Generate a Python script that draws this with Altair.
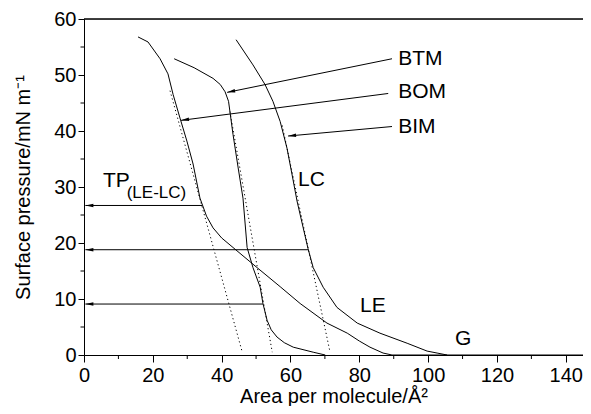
import math
import altair as alt
import pandas as pd

# ---------------- data ----------------
bom_x = [15.7, 18.6, 22.1, 24.4, 25.9, 27.9, 29.9, 31.7, 33.7, 34.3, 35.6, 37.5, 40.0, 43.3, 50.3, 57.0, 62.8, 70.6, 76.5, 80.0, 83.1, 86.9, 89.5, 145.0]
bom_y = [56.8, 55.9, 52.9, 50.2, 46.5, 42.3, 38.2, 34.1, 28.0, 27.0, 24.8, 22.7, 20.9, 19.2, 15.6, 12.2, 9.2, 5.7, 3.9, 2.5, 1.4, 0.35, 0.0, 0.0]

btm_x = [26.2, 32.0, 37.5, 39.6, 41.0, 42.0, 42.4, 43.3, 44.8, 46.2, 47.4, 49.1, 51.2, 52.0, 53.2, 54.4, 56.1, 58.2, 60.8, 66.6, 70.1]
btm_y = [52.9, 51.3, 49.4, 48.3, 47.0, 45.3, 43.5, 39.4, 33.4, 28.0, 19.2, 15.6, 12.1, 9.2, 6.2, 4.5, 3.2, 2.2, 1.4, 0.5, 0.0]

bim_x = [44.2, 49.1, 52.6, 54.9, 57.0, 59.0, 60.8, 61.9, 63.7, 65.1, 66.6, 69.5, 73.5, 79.4, 86.0, 93.9, 99.7, 102.6, 105.5]
bim_y = [56.3, 51.8, 48.3, 45.3, 41.7, 36.9, 31.1, 27.5, 22.7, 19.0, 15.6, 12.1, 8.5, 5.7, 3.9, 2.1, 0.7, 0.35, 0.0]

# dotted extrapolations of the condensed regions (start, end)
dot_names = ["BOM", "BTM", "BIM"]
dot_x0 = [25.0, 42.4, 57.6]
dot_y0 = [47.2, 43.5, 41.0]
dot_x1 = [45.9, 54.7, 71.5]
dot_y1 = [0.7, 0.5, 0.5]

# arrows (start -> tip)
arr_x0 = [89.5, 88.4, 89.5, 34.3, 65.1, 52.0]
arr_y0 = [52.9, 46.7, 40.8, 26.7, 18.8, 9.1]
arr_x1 = [41.6, 28.2, 59.3, 0.4, 0.4, 0.4]
arr_y1 = [46.9, 41.9, 39.1, 26.7, 18.8, 9.1]

# annotation labels
lab_text = ["BTM", "BOM", "BIM", "LC", "LE", "G", "TP"]
lab_x = [91.3, 91.3, 91.3, 62.2, 80.2, 107.8, 5.5]
lab_y = [52.9, 47.0, 40.8, 31.2, 8.8, 2.8, 31.0]
sub_text = ["(LE-LC)"]
sub_x = [12.4]
sub_y = [29.0]

x_major = [0, 20, 40, 60, 80, 100, 120, 140]
x_minor = [10, 30, 50, 70, 90, 110, 130]
y_major = [0, 10, 20, 30, 40, 50, 60]
y_minor = [5, 15, 25, 35, 45, 55]

# ---------------- layout ----------------
W, H = 499, 336
XMAX, YMAX = 145.0, 60
PX, PY = W / XMAX, H / YMAX
FONT = "Liberation Sans"

curves = pd.concat([
    pd.DataFrame({"x": bom_x, "y": bom_y, "s": "BOM", "o": range(len(bom_x))}),
    pd.DataFrame({"x": btm_x, "y": btm_y, "s": "BTM", "o": range(len(btm_x))}),
    pd.DataFrame({"x": bim_x, "y": bim_y, "s": "BIM", "o": range(len(bim_x))}),
])
dots = pd.DataFrame({"x": dot_x0, "y": dot_y0, "x2": dot_x1, "y2": dot_y1, "s": dot_names})
arrows = pd.DataFrame({"x": arr_x0, "y": arr_y0, "x2": arr_x1, "y2": arr_y1})
arrows["angle"] = [
    (math.degrees(math.atan2(-(b1 - b0) * PY, (a1 - a0) * PX)) + 360) % 360
    for a0, b0, a1, b1 in zip(arr_x0, arr_y0, arr_x1, arr_y1)
]
labels = pd.DataFrame({"t": lab_text, "x": lab_x, "y": lab_y})
subs = pd.DataFrame({"t": sub_text, "x": sub_x, "y": sub_y})
top = pd.DataFrame({"x": [0], "x2": [XMAX], "y": [YMAX]})
xmin_df = pd.DataFrame({"v": x_minor})
ymin_df = pd.DataFrame({"v": y_minor})

xscale = alt.Scale(domain=[0, XMAX], nice=False, zero=False)
yscale = alt.Scale(domain=[0, YMAX], nice=False)

common = dict(
    grid=False, labelFont=FONT, titleFont=FONT, titleFontWeight="normal",
    domainColor="black", tickColor="black", labelColor="black", titleColor="black",
    labelFlush=False, labelOverlap=False, labelFontSize=20, titleFontSize=20,
)
xaxis = alt.Axis(title="Area per molecule/Å²", values=x_major, tickSize=7,
                 labelPadding=3, titlePadding=1, **common)
yaxis = alt.Axis(title="Surface pressure/mN m⁻¹", values=y_major, tickSize=6,
                 labelPadding=2, titlePadding=20, **common)

lines = alt.Chart(curves).mark_line(color="black", strokeWidth=1).encode(
    x=alt.X("x:Q", scale=xscale, axis=xaxis),
    y=alt.Y("y:Q", scale=yscale, axis=yaxis),
    detail="s:N",
    order="o:Q",
)

# minor tick marks (outside the plot, like the axis ticks)
x_minor_ticks = alt.Chart(xmin_df).mark_rule(color="black", strokeWidth=1).encode(
    x="v:Q", y=alt.value(H), y2=alt.value(H + 4)
)
y_minor_ticks = alt.Chart(ymin_df).mark_rule(color="black", strokeWidth=1).encode(
    y="v:Q", x=alt.value(0), x2=alt.value(-3.5)
)

dotted = alt.Chart(dots).mark_rule(color="black", strokeWidth=1, strokeDash=[1.2, 2.8]).encode(
    x="x:Q", y="y:Q", x2="x2:Q", y2="y2:Q"
)

arrow_lines = alt.Chart(arrows).mark_rule(color="black", strokeWidth=1).encode(
    x="x:Q", y="y:Q", x2="x2:Q", y2="y2:Q"
)
arrow_heads = alt.Chart(arrows).mark_point(
    shape="M0,0L-2,-0.45L-2,0.45Z", filled=True, color="black", opacity=1, size=64, strokeWidth=0
).encode(
    x="x2:Q", y="y2:Q", angle=alt.Angle("angle:Q", scale=None)
)

texts = alt.Chart(labels).mark_text(
    align="left", baseline="middle", fontSize=21, font=FONT, color="black"
).encode(x="x:Q", y="y:Q", text="t:N")

subtexts = alt.Chart(subs).mark_text(
    align="left", baseline="middle", fontSize=17, font=FONT, color="black"
).encode(x="x:Q", y="y:Q", text="t:N")

top_line = alt.Chart(top).mark_rule(color="black", strokeWidth=1.4).encode(
    x="x:Q", x2="x2:Q", y="y:Q"
)

chart = alt.layer(
    lines, x_minor_ticks, y_minor_ticks, dotted, arrow_lines, arrow_heads, texts, subtexts, top_line
).properties(
    width=W, height=H,
    autosize=alt.AutoSizeParams(type="none"),
    padding={"left": 76, "top": 11, "right": 0, "bottom": 51},
).configure_view(stroke=None).configure(background="white")

chart.save("out.html", embed_options={"renderer": "svg", "actions": False})
